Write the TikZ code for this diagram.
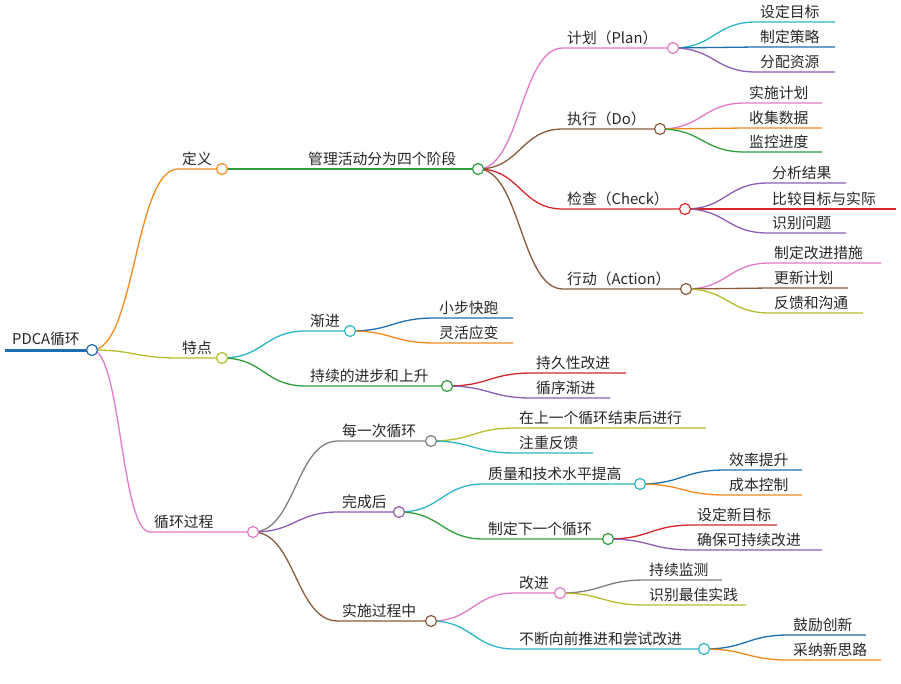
\documentclass[tikz,border=0pt]{standalone}
\usepackage{fontspec}
\setmainfont{Noto Sans CJK SC}
\usetikzlibrary{calc,backgrounds}
\definecolor{ccyan}{HTML}{2BB5C8}
\definecolor{cblue}{HTML}{1F6FB0}
\definecolor{cpurple}{HTML}{8E5CB5}
\definecolor{cpink}{HTML}{E07AC8}
\definecolor{cbrown}{HTML}{8B5A3C}
\definecolor{corange}{HTML}{F08A1C}
\definecolor{cgreen}{HTML}{2E9E3A}
\definecolor{cred}{HTML}{D62728}
\definecolor{colive}{HTML}{B5BD2A}
\definecolor{cgray}{HTML}{7F7F7F}
\tikzset{edge/.style={line width=1.3pt},
 lbl/.style={anchor=south west,inner sep=1pt,font=\fontsize{14.8}{17}\selectfont,text=black!85},
 hubc/.style={line width=1.2pt,fill=white}}
\newcommand\leaf[7]{%
 \coordinate (#1s) at (#4,#5); \coordinate (#1) at (#6,#5);
 \coordinate (#1m) at ($(#3)!0.5!(#1s)$);
 \begin{pgfonlayer}{background}
 \draw[edge,#2] (#3) .. controls (#1m |- #3) and (#1m |- #1s) .. (#1s) -- (#1);
 \end{pgfonlayer}
 \node[lbl] (#1t) at ($(#1s)+(3,-2)$) {#7};}
\newcommand\hub[7]{\leaf{#1}{#2}{#3}{#4}{#5}{#6}{#7}\draw[hubc,draw=#2] (#1) circle (5.5);}
\begin{document}
\begin{tikzpicture}[x=1pt,y=-1pt]
\useasboundingbox (0,0) rectangle (901,683);
\coordinate (r0) at (5,350); \coordinate (r) at (92,350);
\draw[cblue,line width=3pt] (r0) -- (r);
\node[lbl] (rt) at ($(r0)+(6,-3)$) {PDCA循环};
\hub{a}{corange}{r}{178}{169}{222}{定义}
\hub{b}{colive}{r}{178}{358}{222}{特点}
\hub{c}{cpink}{r}{150}{532}{253}{循环过程}
\draw[hubc,draw=cblue] (r) circle (5.5);
\hub{a1}{cgreen}{a}{304}{169}{478}{管理活动分为四个阶段}
\hub{p}{cpink}{a1}{563}{48}{673}{计划（Plan）}
\leaf{p1}{ccyan}{p}{756}{22}{835}{设定目标}
\leaf{p2}{cblue}{p}{756}{47}{835}{制定策略}
\leaf{p3}{cpurple}{p}{756}{72}{835}{分配资源}
\hub{d}{cbrown}{a1}{563}{129}{660}{执行（Do）}
\leaf{d1}{cpink}{d}{745}{103}{822}{实施计划}
\leaf{d2}{corange}{d}{745}{128}{822}{收集数据}
\leaf{d3}{cgreen}{d}{745}{152}{822}{监控进度}
\hub{k}{cred}{a1}{563}{209}{685}{检查（Check）}
\leaf{k1}{cpurple}{k}{768}{183}{846}{分析结果}
\leaf{k2}{cred}{k}{768}{209}{896}{比较目标与实际}
\leaf{k3}{cpurple}{k}{768}{233}{846}{识别问题}
\hub{t}{cbrown}{a1}{563}{289}{686}{行动（Action）}
\leaf{t1}{cpink}{t}{770}{263}{881}{制定改进措施}
\leaf{t2}{cbrown}{t}{770}{288}{848}{更新计划}
\leaf{t3}{colive}{t}{770}{313}{863}{反馈和沟通}
\hub{b1}{ccyan}{b}{306}{331}{350}{渐进}
\leaf{b11}{cblue}{b1}{435}{318}{513}{小步快跑}
\leaf{b12}{corange}{b1}{435}{343}{513}{灵活应变}
\hub{b2}{cgreen}{b}{306}{386}{447}{持续的进步和上升}
\leaf{b21}{cred}{b2}{532}{373}{626}{持久性改进}
\leaf{b22}{cpurple}{b2}{532}{398}{610}{循序渐进}
\hub{c1}{cgray}{c}{338}{441}{431}{每一次循环}
\leaf{c11}{colive}{c1}{515}{428}{706}{在上一个循环结束后进行}
\leaf{c12}{ccyan}{c1}{515}{453}{593}{注重反馈}
\hub{c2}{cpurple}{c}{338}{512}{399}{完成后}
\hub{c21}{ccyan}{c2}{484}{484}{640}{质量和技术水平提高}
\leaf{c211}{cblue}{c21}{725}{470}{802}{效率提升}
\leaf{c212}{corange}{c21}{725}{495}{802}{成本控制}
\hub{c22}{cgreen}{c2}{484}{539}{608}{制定下一个循环}
\leaf{c221}{cred}{c22}{693}{525}{777}{设定新目标}
\leaf{c222}{cpurple}{c22}{693}{550}{822}{确保可持续改进}
\hub{c3}{cbrown}{c}{338}{621}{431}{实施过程中}
\hub{c31}{cpink}{c3}{515}{593}{560}{改进}
\leaf{c311}{cgray}{c31}{645}{580}{722}{持续监测}
\leaf{c312}{colive}{c31}{645}{605}{746}{识别最佳实践}
\hub{c32}{ccyan}{c3}{515}{649}{704}{不断向前推进和尝试改进}
\leaf{c321}{cblue}{c32}{789}{635}{866}{鼓励创新}
\leaf{c322}{corange}{c32}{789}{660}{881}{采纳新思路}
\end{tikzpicture}
\end{document}
